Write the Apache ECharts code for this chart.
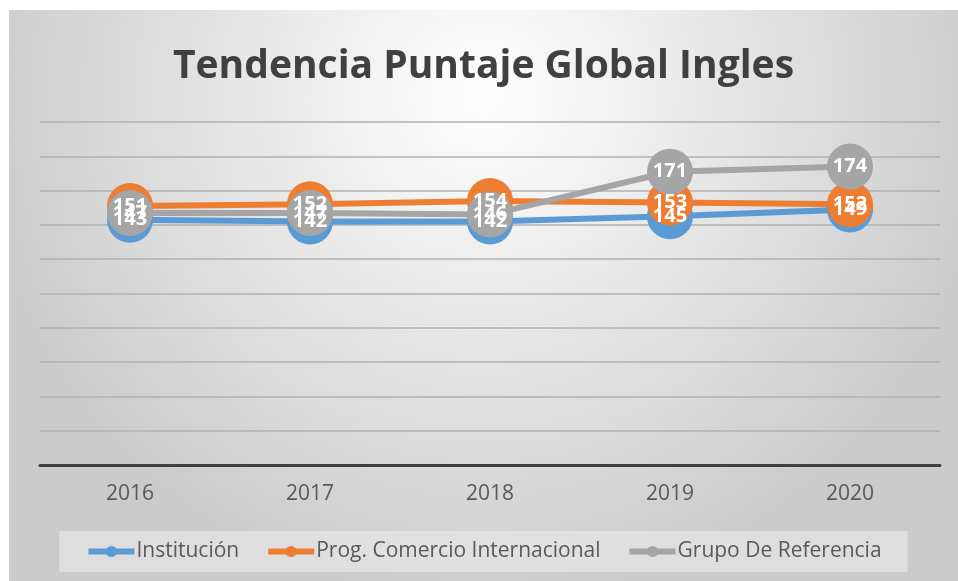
<!DOCTYPE html>
<html>
<head>
<meta charset="utf-8">
<script src="https://cdn.jsdelivr.net/npm/echarts@6/dist/echarts.min.js"></script>
<style>
  html, body { margin: 0; padding: 0; background: #fff; }
  #chart { position: absolute; left: 9px; top: 10px; width: 949px; height: 571px; }
</style>
</head>
<body>
<div id="chart"></div>
<script>
// datos
const years = ['2016', '2017', '2018', '2019', '2020']
const institucion = [143, 142, 142, 145, 149]
const progComercio = [151, 152, 154, 153, 152]
const grupoReferencia = [147, 147, 146, 171, 174]

const colors = ['#5B9BD5', '#ED7D31', '#A5A5A5']
const font = '"Open Sans", "Noto Sans", sans-serif'

function lineSeries(name, data, color) {
  return {
    name,
    type: 'line',
    data,
    symbol: 'circle',
    symbolSize: 46,
    lineStyle: { color, width: 6 },
    itemStyle: { color },
    label: {
      show: true,
      position: 'inside',
      color: '#fff',
      fontFamily: font,
      fontWeight: 'bold',
      fontSize: 20
    }
  }
}

const chart = echarts.init(document.getElementById('chart'))
chart.setOption({
  backgroundColor: {
    type: 'radial', x: 0.5, y: 0.15, r: 0.9,
    colorStops: [
      { offset: 0, color: '#ffffff' },
      { offset: 1, color: '#cbcbcb' }
    ]
  },
  animation: false,
  title: {
    text: 'Tendencia Puntaje Global Ingles',
    left: 'center',
    top: 32,
    textStyle: { fontFamily: font, fontWeight: 'bold', fontSize: 39, color: '#404040' }
  },
  legend: {
    bottom: 9,
    left: 'center',
    itemWidth: 46,
    itemHeight: 14,
    itemGap: 26,
    padding: [10, 26, 10, 26],
    backgroundColor: 'rgba(235,235,235,0.6)',
    lineStyle: { width: 6 },
    textStyle: { fontFamily: font, fontSize: 21, color: '#595959', padding: [0, 0, 0, -3] }
  },
  grid: { left: 31, right: 18, top: 112, bottom: 116 },
  xAxis: {
    type: 'category',
    data: years,
    axisLine: { lineStyle: { color: '#404040', width: 3 } },
    axisTick: { show: false },
    axisLabel: { fontFamily: font, fontSize: 21, color: '#595959', margin: 19 }
  },
  yAxis: {
    type: 'value',
    min: 0,
    max: 200,
    interval: 20,
    axisLabel: { show: false },
    axisLine: { show: false },
    axisTick: { show: false },
    splitLine: { lineStyle: { color: '#b0b0b0', width: 1.5 } }
  },
  series: [
    lineSeries('Institución', institucion, colors[0]),
    lineSeries('Prog. Comercio Internacional', progComercio, colors[1]),
    lineSeries('Grupo De Referencia', grupoReferencia, colors[2])
  ]
})
</script>
</body>
</html>
